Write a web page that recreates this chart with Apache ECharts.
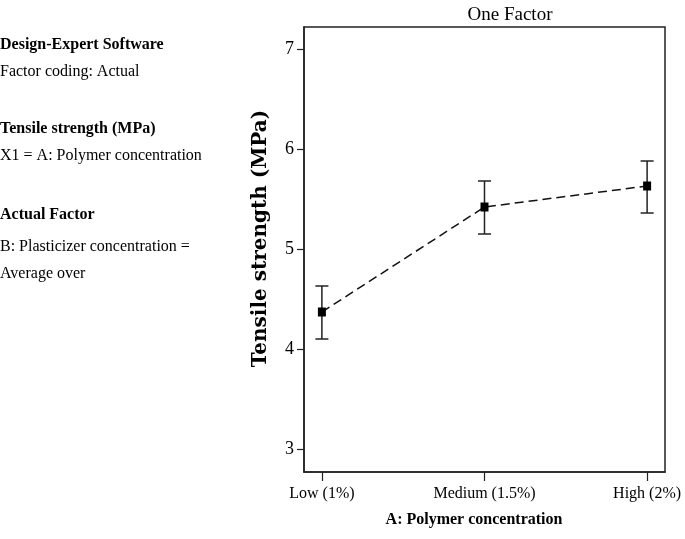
<!DOCTYPE html>
<html>
<head>
<meta charset="utf-8">
<script src="https://cdn.jsdelivr.net/npm/echarts@6/dist/echarts.min.js"></script>
<style>html,body{margin:0;padding:0;background:#fff}#c{width:685px;height:539px}</style>
</head>
<body>
<div id="c"></div>
<script>
const categories = ['Low (1%)', 'Medium (1.5%)', 'High (2%)'];
const categoryPos = [0, 1, 2];
const meanValues = [4.37, 5.42, 5.63];
const lowerValues = [4.10, 5.15, 5.36];
const upperValues = [4.63, 5.68, 5.88];
const yTicks = [3, 4, 5, 6, 7];
const titleText = 'One Factor';
const xName = 'A: Polymer concentration';
const yName = 'Tensile strength (MPa)';
const infoLines = [
  ['Design-Expert Software', true],
  ['Factor coding: Actual', false],
  ['Tensile strength (MPa)', true],
  ['X1 = A: Polymer concentration', false],
  ['Actual Factor', true],
  ['B: Plasticizer concentration =', false],
  ['Average over', false]
];
const infoY = [47, 74, 131, 158, 217, 249, 276];

const serif = '"Liberation Serif", "Times New Roman", serif';
const chart = echarts.init(document.getElementById('c'), null, {renderer: 'canvas'});

const linePts = categoryPos.map((x, i) => [x, meanValues[i]]);
const errPts = categoryPos.map((x, i) => [x, lowerValues[i], upperValues[i]]);

chart.setOption({
  animation: false,
  backgroundColor: '#fff',
  title: {
    text: titleText,
    left: 505, top: 1, textAlign: 'center',
    textStyle: {fontFamily: serif, fontSize: 19, fontWeight: 'normal', color: '#000'}
  },
  graphic: infoLines.map((l, i) => ({
    type: 'text', left: 0, top: infoY[i] - 10,
    style: {text: l[0], fontFamily: serif, fontSize: 16, fontWeight: l[1] ? 'bold' : 'normal', fill: '#000'}
  })),
  grid: {left: 304, top: 27, right: 20, bottom: 67, show: true, borderColor: '#222', borderWidth: 1.5, backgroundColor: 'transparent'},
  xAxis: {
    type: 'value', min: -0.11, max: 2.11,
    name: xName, nameLocation: 'middle', nameGap: 40,
    nameTextStyle: {fontFamily: serif, fontSize: 16, fontWeight: 'bold', color: '#000', padding: [0, 21, 0, 0]},
    splitLine: {show: false},
    axisLine: {show: true, onZero: false, lineStyle: {color: '#222', width: 1.5}},
    axisTick: {show: true, customValues: categoryPos, length: 9, lineStyle: {color: '#222', width: 1.2}},
    axisLabel: {customValues: categoryPos, formatter: v => categories[Math.round(v)], margin: 14,
      fontFamily: serif, fontSize: 16, color: '#000'}
  },
  yAxis: {
    type: 'value', min: 2.77, max: 7.22,
    name: yName, nameLocation: 'middle', nameGap: 33,
    nameTextStyle: {fontFamily: '"DejaVu Serif", serif', fontSize: 20, fontWeight: 'bold', color: '#000', padding: [0, 0, 0, 22]},
    splitLine: {show: false},
    axisLine: {show: true, onZero: false, lineStyle: {color: '#222', width: 1.5}},
    axisTick: {show: true, customValues: yTicks, length: 7, lineStyle: {color: '#222', width: 1.2}},
    axisLabel: {customValues: yTicks, margin: 10, fontFamily: serif, fontSize: 18, color: '#000'}
  },
  series: [
    {
      type: 'custom',
      data: errPts,
      renderItem: function (params, api) {
        const x = api.value(0);
        const lo = api.coord([x, api.value(1)]);
        const hi = api.coord([x, api.value(2)]);
        const w = 6.5;
        const st = {stroke: '#222', lineWidth: 1.5};
        return {type: 'group', children: [
          {type: 'line', shape: {x1: lo[0], y1: lo[1], x2: hi[0], y2: hi[1]}, style: st},
          {type: 'line', shape: {x1: lo[0] - w, y1: lo[1], x2: lo[0] + w, y2: lo[1]}, style: st},
          {type: 'line', shape: {x1: hi[0] - w, y1: hi[1], x2: hi[0] + w, y2: hi[1]}, style: st}
        ]};
      },
      z: 2
    },
    {
      type: 'line',
      data: linePts,
      symbol: 'rect', symbolSize: [8, 9],
      itemStyle: {color: '#000'},
      lineStyle: {color: '#111', width: 1.5, type: [9, 5]},
      z: 3
    }
  ]
});
</script>
</body>
</html>
